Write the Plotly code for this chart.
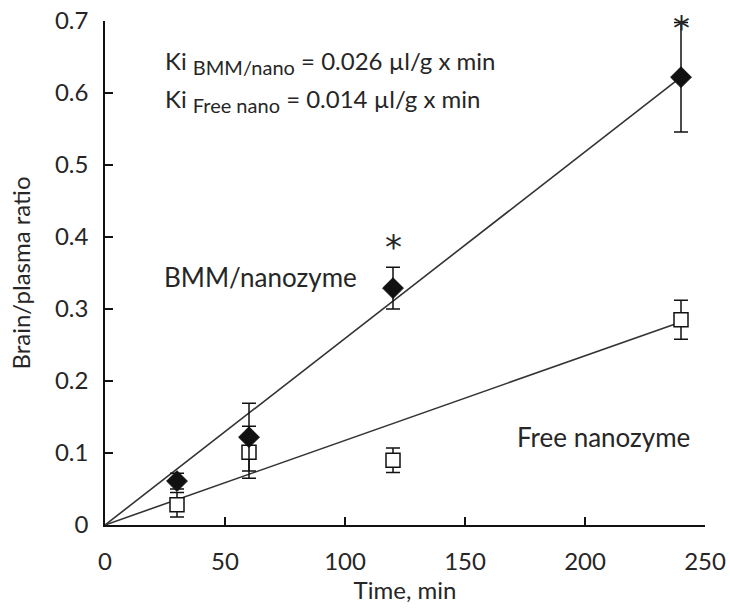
import plotly.graph_objects as go

time_min = [30, 60, 120, 240]
bmm_ratio = [0.061, 0.122, 0.329, 0.622]
bmm_err = [0.011, 0.047, 0.029, 0.076]
free_ratio = [0.028, 0.101, 0.090, 0.285]
free_err = [0.017, 0.036, 0.017, 0.027]

fit_x = [0, 240]
fit_bmm = [0, 0.622]
fit_free = [0, 0.282]

star_x = [120, 240]
star_y = [0.393, 0.697]

FONT = "Lato"
TXT = "#262626"

fig = go.Figure()
fig.add_trace(go.Scatter(x=fit_x, y=fit_bmm, mode="lines",
                         line=dict(color="#333333", width=1.6), showlegend=False, hoverinfo="skip"))
fig.add_trace(go.Scatter(x=fit_x, y=fit_free, mode="lines",
                         line=dict(color="#333333", width=1.6), showlegend=False, hoverinfo="skip"))
fig.add_trace(go.Scatter(x=time_min, y=free_ratio, mode="markers", cliponaxis=False,
                         error_y=dict(type="data", array=free_err, color="#111111", thickness=1.5, width=7),
                         marker=dict(symbol="square", size=14, color="white",
                                     line=dict(color="#111111", width=1.5)),
                         showlegend=False))
fig.add_trace(go.Scatter(x=time_min, y=bmm_ratio, mode="markers", cliponaxis=False,
                         error_y=dict(type="data", array=bmm_err, color="#111111", thickness=1.5, width=7),
                         marker=dict(symbol="diamond", size=16, color="#111111",
                                     line=dict(color="#111111", width=1)),
                         showlegend=False))

for sx, sy in zip(star_x, star_y):
    fig.add_annotation(x=sx, y=sy, text="*", showarrow=False, yanchor="middle", yshift=-5,
                       font=dict(family="DejaVu Sans", size=34, color=TXT))

fig.add_annotation(x=64.6, y=0.344, text="BMM/nanozyme", showarrow=False,
                   font=dict(family=FONT, size=26, color=TXT))
fig.add_annotation(x=207.5, y=0.122, text="Free nanozyme", showarrow=False,
                   font=dict(family=FONT, size=26, color=TXT))
fig.add_annotation(x=24.2, y=0.643, xanchor="left", showarrow=False,
                   text="Ki <sub><span style='font-size:20px'>BMM/nano</span></sub> = 0.026 µl/g x min",
                   font=dict(family=FONT, size=24, color=TXT))
fig.add_annotation(x=24.2, y=0.589, xanchor="left", showarrow=False,
                   text="Ki <sub><span style='font-size:20px'>Free nano</span></sub> = 0.014 µl/g x min",
                   font=dict(family=FONT, size=24, color=TXT))

fig.update_layout(
    width=730, height=611,
    margin=dict(l=105, r=25, t=21, b=86),
    plot_bgcolor="white", paper_bgcolor="white",
    font=dict(family=FONT, size=22, color=TXT),
)
fig.update_xaxes(range=[0, 250], tickvals=[0, 50, 100, 150, 200, 250], automargin=False,
                 showgrid=False, zeroline=False, showline=True, linecolor="#111111", linewidth=1.5,
                 ticks="inside", ticklen=8, tickcolor="#111111", tickwidth=1.5, ticklabelstandoff=14,
                 ticklabeloverflow="allow",
                 title=dict(text="Time, min", font=dict(family=FONT, size=24, color=TXT), standoff=8),
                 tickfont=dict(family=FONT, size=24, color=TXT))
fig.update_yaxes(range=[0, 0.7], tickvals=[0, 0.1, 0.2, 0.3, 0.4, 0.5, 0.6, 0.7], automargin=False,
                 showgrid=False, zeroline=False, showline=True, linecolor="#111111", linewidth=1.5,
                 ticks="inside", ticklen=8, tickcolor="#111111", tickwidth=1.5, ticklabelstandoff=10,
                 ticklabeloverflow="allow",
                 title=dict(text="Brain/plasma ratio", font=dict(family=FONT, size=24, color=TXT), standoff=18),
                 tickfont=dict(family=FONT, size=24, color=TXT))

fig.write_html("out.html", config={"displayModeBar": False},
               post_script="document.body.style.margin='0';document.body.style.overflow='hidden';")
